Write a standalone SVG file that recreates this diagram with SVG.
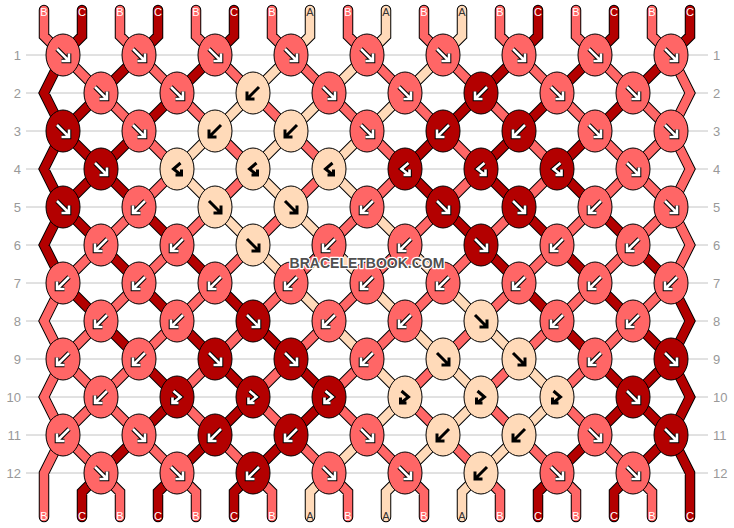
<svg xmlns="http://www.w3.org/2000/svg" xmlns:xlink="http://www.w3.org/1999/xlink" width="734" height="528" viewBox="0 0 734 528">
<style>
.grid line{stroke:#c4c4c4;stroke-width:1}
.rl{font-family:"Liberation Sans",Arial,sans-serif;font-size:13px;fill:#999}
.rl.l{text-anchor:end}
.so{fill:none;stroke:#000;stroke-width:10.5;stroke-linecap:round;stroke-linejoin:miter}
.sB{fill:none;stroke:#FF6666;stroke-width:8.5;stroke-linecap:round;stroke-linejoin:miter}
.sC{fill:none;stroke:#B30000;stroke-width:8.5;stroke-linecap:round;stroke-linejoin:miter}
.sA{fill:none;stroke:#FFDAB9;stroke-width:8.5;stroke-linecap:round;stroke-linejoin:miter}
.kB,.kC,.kA{stroke:#000;stroke-width:1}
.kB{fill:#FF6666}.kC{fill:#B30000}.kA{fill:#FFDAB9}
.ao{fill:none;stroke:#000;stroke-width:4.6}
.aw{fill:none;stroke:#fff;stroke-width:2.6}
.ak{fill:none;stroke:#000;stroke-width:3}
.lb{font-family:"Liberation Sans",Arial,sans-serif;font-size:11px;text-anchor:middle}
.lw{fill:#fff}.ld{fill:#333}
.wm{font-family:"Liberation Sans",Arial,sans-serif;font-weight:bold;font-size:14px;text-anchor:middle;fill:#505050;stroke:#fff;stroke-width:2.5;paint-order:stroke;stroke-linejoin:round}
</style>
<defs>
<path id="aF" d="M-6,-6L5,5M6,-1.5V6H-1.5"/>
<path id="aB" d="M6,-6L-5,5M-6,-1.5V6H1.5"/>
<path id="aFB" d="M-3.5,-6L3.5,0L-3.5,5.5M-4.5,0.5V6H1.5"/>
<path id="aBF" d="M3.5,-6L-3.5,0L3.5,5.5M4.5,0.5V6H-1.5"/>
<g id="Fw"><use href="#aF" class="ao"/><use href="#aF" class="aw"/></g>
<g id="Fk"><use href="#aF" class="ak"/></g>
<g id="Bw"><use href="#aB" class="ao"/><use href="#aB" class="aw"/></g>
<g id="Bk"><use href="#aB" class="ak"/></g>
<g id="FBw"><use href="#aFB" class="ao"/><use href="#aFB" class="aw"/></g>
<g id="FBk"><use href="#aFB" class="ak"/></g>
<g id="BFw"><use href="#aBF" class="ao"/><use href="#aBF" class="aw"/></g>
<g id="BFk"><use href="#aBF" class="ak"/></g>
<path id="sgB" d="M44,10V36L63,55M120,10V36L139,55M196,10V36L215,55M272,10V36L291,55M348,10V36L367,55M424,10V36L443,55M500,10V36L519,55M576,10V36L595,55M652,10V36L671,55
M671,55L690,93L671,131M671,131L690,169L671,207M671,207L690,245L671,283M63,283L44,321L63,359M63,359L44,397L63,435M63,435L44,473V517
M63,55L101,93M139,55L177,93M215,55L253,93M291,55L329,93M367,55L405,93M443,55L481,93M519,55L557,93M595,55L633,93
M101,93L139,131M177,93L215,131M253,93L291,131M329,93L367,131M405,93L443,131M481,93L519,131M557,93L595,131M633,93L671,131
M139,131L177,169M215,131L253,169M291,131L329,169M367,131L405,169M443,131L481,169M519,131L557,169M595,131L633,169M671,131L633,169
M177,169L139,207M253,169L215,207M329,169L291,207M405,169L367,207M481,169L443,207M557,169L519,207M633,169L595,207M633,169L671,207
M139,207L101,245M215,207L177,245M291,207L253,245M367,207L329,245M443,207L405,245M519,207L481,245M595,207L557,245M671,207L633,245
M101,245L63,283M177,245L139,283M253,245L215,283M329,245L291,283M405,245L367,283M481,245L443,283M557,245L519,283M633,245L595,283
M139,283L101,321M215,283L177,321M291,283L253,321M367,283L329,321M443,283L405,321M519,283L481,321M595,283L557,321M671,283L633,321
M101,321L63,359M177,321L139,359M253,321L215,359M329,321L291,359M405,321L367,359M481,321L443,359M557,321L519,359M633,321L595,359
M63,359L101,397M139,359L101,397M215,359L177,397M291,359L253,397M367,359L329,397M443,359L405,397M519,359L481,397M595,359L557,397
M101,397L63,435M101,397L139,435M177,397L215,435M253,397L291,435M329,397L367,435M405,397L443,435M481,397L519,435M557,397L595,435
M63,435L101,473M139,435L177,473M215,435L253,473M291,435L329,473M367,435L405,473M443,435L481,473M519,435L557,473M595,435L633,473
M101,473L120,492V517M177,473L196,492V517M253,473L272,492V517M329,473L348,492V517M405,473L424,492V517M481,473L500,492V517M557,473L576,492V517M633,473L652,492V517"/>
<path id="sgC" d="M82,10V36L63,55M158,10V36L139,55M234,10V36L215,55M538,10V36L519,55M614,10V36L595,55M690,10V36L671,55
M63,55L44,93L63,131M63,131L44,169L63,207M63,207L44,245L63,283M671,283L690,321L671,359M671,359L690,397L671,435M671,435L690,473V517
M139,55L101,93M215,55L177,93M519,55L481,93M595,55L557,93M671,55L633,93
M101,93L63,131M177,93L139,131M481,93L443,131M557,93L519,131M633,93L595,131
M63,131L101,169M139,131L101,169M443,131L405,169M519,131L481,169M595,131L557,169
M101,169L63,207M101,169L139,207M405,169L443,207M481,169L519,207M557,169L595,207
M63,207L101,245M139,207L177,245M443,207L481,245M519,207L557,245M595,207L633,245
M101,245L139,283M177,245L215,283M481,245L519,283M557,245L595,283M633,245L671,283
M63,283L101,321M139,283L177,321M215,283L253,321M519,283L557,321M595,283L633,321
M101,321L139,359M177,321L215,359M253,321L291,359M557,321L595,359M633,321L671,359
M139,359L177,397M215,359L253,397M291,359L329,397M595,359L633,397M671,359L633,397
M177,397L139,435M253,397L215,435M329,397L291,435M633,397L595,435M633,397L671,435
M139,435L101,473M215,435L177,473M291,435L253,473M595,435L557,473M671,435L633,473
M101,473L82,492V517M177,473L158,492V517M253,473L234,492V517M557,473L538,492V517M633,473L614,492V517"/>
<path id="sgA" d="M310,10V36L291,55M386,10V36L367,55M462,10V36L443,55
M291,55L253,93M367,55L329,93M443,55L405,93
M253,93L215,131M329,93L291,131M405,93L367,131
M215,131L177,169M291,131L253,169M367,131L329,169
M177,169L215,207M253,169L291,207M329,169L367,207
M215,207L253,245M291,207L329,245M367,207L405,245
M253,245L291,283M329,245L367,283M405,245L443,283
M291,283L329,321M367,283L405,321M443,283L481,321
M329,321L367,359M405,321L443,359M481,321L519,359
M367,359L405,397M443,359L481,397M519,359L557,397
M405,397L367,435M481,397L443,435M557,397L519,435
M367,435L329,473M443,435L405,473M519,435L481,473
M329,473L310,492V517M405,473L386,492V517M481,473L462,492V517"/>
</defs>
<rect width="734" height="528" fill="#fff"/>
<g class="grid">
<line x1="26" y1="55" x2="708" y2="55"/><line x1="26" y1="93" x2="708" y2="93"/><line x1="26" y1="131" x2="708" y2="131"/><line x1="26" y1="169" x2="708" y2="169"/><line x1="26" y1="207" x2="708" y2="207"/><line x1="26" y1="245" x2="708" y2="245"/><line x1="26" y1="283" x2="708" y2="283"/><line x1="26" y1="321" x2="708" y2="321"/><line x1="26" y1="359" x2="708" y2="359"/><line x1="26" y1="397" x2="708" y2="397"/><line x1="26" y1="435" x2="708" y2="435"/><line x1="26" y1="473" x2="708" y2="473"/>
</g>
<g id="row-labels">
<text class="rl l" x="21" y="59.5">1</text><text class="rl l" x="21" y="97.5">2</text><text class="rl l" x="21" y="135.5">3</text><text class="rl l" x="21" y="173.5">4</text><text class="rl l" x="21" y="211.5">5</text><text class="rl l" x="21" y="249.5">6</text><text class="rl l" x="21" y="287.5">7</text><text class="rl l" x="21" y="325.5">8</text><text class="rl l" x="21" y="363.5">9</text><text class="rl l" x="21" y="401.5">10</text><text class="rl l" x="21" y="439.5">11</text><text class="rl l" x="21" y="477.5">12</text>
<text class="rl" x="713" y="59.5">1</text><text class="rl" x="713" y="97.5">2</text><text class="rl" x="713" y="135.5">3</text><text class="rl" x="713" y="173.5">4</text><text class="rl" x="713" y="211.5">5</text><text class="rl" x="713" y="249.5">6</text><text class="rl" x="713" y="287.5">7</text><text class="rl" x="713" y="325.5">8</text><text class="rl" x="713" y="363.5">9</text><text class="rl" x="713" y="401.5">10</text><text class="rl" x="713" y="439.5">11</text><text class="rl" x="713" y="477.5">12</text>
</g>
<g id="connectors">
<use href="#sgB" class="so"/><use href="#sgC" class="so"/><use href="#sgA" class="so"/>
<use href="#sgB" class="sB"/><use href="#sgC" class="sC"/><use href="#sgA" class="sA"/>
</g>
<g id="knots">
<g id="k1-1"><ellipse class="kB" cx="63" cy="55" rx="17" ry="21"/><use href="#Fw" x="63" y="55"/></g>
<g id="k1-2"><ellipse class="kB" cx="139" cy="55" rx="17" ry="21"/><use href="#Fw" x="139" y="55"/></g>
<g id="k1-3"><ellipse class="kB" cx="215" cy="55" rx="17" ry="21"/><use href="#Fw" x="215" y="55"/></g>
<g id="k1-4"><ellipse class="kB" cx="291" cy="55" rx="17" ry="21"/><use href="#Fw" x="291" y="55"/></g>
<g id="k1-5"><ellipse class="kB" cx="367" cy="55" rx="17" ry="21"/><use href="#Fw" x="367" y="55"/></g>
<g id="k1-6"><ellipse class="kB" cx="443" cy="55" rx="17" ry="21"/><use href="#Fw" x="443" y="55"/></g>
<g id="k1-7"><ellipse class="kB" cx="519" cy="55" rx="17" ry="21"/><use href="#Fw" x="519" y="55"/></g>
<g id="k1-8"><ellipse class="kB" cx="595" cy="55" rx="17" ry="21"/><use href="#Fw" x="595" y="55"/></g>
<g id="k1-9"><ellipse class="kB" cx="671" cy="55" rx="17" ry="21"/><use href="#Fw" x="671" y="55"/></g>

<g id="k2-1"><ellipse class="kB" cx="101" cy="93" rx="17" ry="21"/><use href="#Fw" x="101" y="93"/></g>
<g id="k2-2"><ellipse class="kB" cx="177" cy="93" rx="17" ry="21"/><use href="#Fw" x="177" y="93"/></g>
<g id="k2-3"><ellipse class="kA" cx="253" cy="93" rx="17" ry="21"/><use href="#Bk" x="253" y="93"/></g>
<g id="k2-4"><ellipse class="kB" cx="329" cy="93" rx="17" ry="21"/><use href="#Fw" x="329" y="93"/></g>
<g id="k2-5"><ellipse class="kB" cx="405" cy="93" rx="17" ry="21"/><use href="#Fw" x="405" y="93"/></g>
<g id="k2-6"><ellipse class="kC" cx="481" cy="93" rx="17" ry="21"/><use href="#Bw" x="481" y="93"/></g>
<g id="k2-7"><ellipse class="kB" cx="557" cy="93" rx="17" ry="21"/><use href="#Fw" x="557" y="93"/></g>
<g id="k2-8"><ellipse class="kB" cx="633" cy="93" rx="17" ry="21"/><use href="#Fw" x="633" y="93"/></g>

<g id="k3-1"><ellipse class="kC" cx="63" cy="131" rx="17" ry="21"/><use href="#Fw" x="63" y="131"/></g>
<g id="k3-2"><ellipse class="kB" cx="139" cy="131" rx="17" ry="21"/><use href="#Fw" x="139" y="131"/></g>
<g id="k3-3"><ellipse class="kA" cx="215" cy="131" rx="17" ry="21"/><use href="#Bk" x="215" y="131"/></g>
<g id="k3-4"><ellipse class="kA" cx="291" cy="131" rx="17" ry="21"/><use href="#Bk" x="291" y="131"/></g>
<g id="k3-5"><ellipse class="kB" cx="367" cy="131" rx="17" ry="21"/><use href="#Fw" x="367" y="131"/></g>
<g id="k3-6"><ellipse class="kC" cx="443" cy="131" rx="17" ry="21"/><use href="#Bw" x="443" y="131"/></g>
<g id="k3-7"><ellipse class="kC" cx="519" cy="131" rx="17" ry="21"/><use href="#Bw" x="519" y="131"/></g>
<g id="k3-8"><ellipse class="kB" cx="595" cy="131" rx="17" ry="21"/><use href="#Fw" x="595" y="131"/></g>
<g id="k3-9"><ellipse class="kB" cx="671" cy="131" rx="17" ry="21"/><use href="#Fw" x="671" y="131"/></g>

<g id="k4-1"><ellipse class="kC" cx="101" cy="169" rx="17" ry="21"/><use href="#Fw" x="101" y="169"/></g>
<g id="k4-2"><ellipse class="kA" cx="177" cy="169" rx="17" ry="21"/><use href="#BFk" x="177" y="169"/></g>
<g id="k4-3"><ellipse class="kA" cx="253" cy="169" rx="17" ry="21"/><use href="#BFk" x="253" y="169"/></g>
<g id="k4-4"><ellipse class="kA" cx="329" cy="169" rx="17" ry="21"/><use href="#BFk" x="329" y="169"/></g>
<g id="k4-5"><ellipse class="kC" cx="405" cy="169" rx="17" ry="21"/><use href="#BFw" x="405" y="169"/></g>
<g id="k4-6"><ellipse class="kC" cx="481" cy="169" rx="17" ry="21"/><use href="#BFw" x="481" y="169"/></g>
<g id="k4-7"><ellipse class="kC" cx="557" cy="169" rx="17" ry="21"/><use href="#BFw" x="557" y="169"/></g>
<g id="k4-8"><ellipse class="kB" cx="633" cy="169" rx="17" ry="21"/><use href="#Fw" x="633" y="169"/></g>

<g id="k5-1"><ellipse class="kC" cx="63" cy="207" rx="17" ry="21"/><use href="#Fw" x="63" y="207"/></g>
<g id="k5-2"><ellipse class="kB" cx="139" cy="207" rx="17" ry="21"/><use href="#Bw" x="139" y="207"/></g>
<g id="k5-3"><ellipse class="kA" cx="215" cy="207" rx="17" ry="21"/><use href="#Fk" x="215" y="207"/></g>
<g id="k5-4"><ellipse class="kA" cx="291" cy="207" rx="17" ry="21"/><use href="#Fk" x="291" y="207"/></g>
<g id="k5-5"><ellipse class="kB" cx="367" cy="207" rx="17" ry="21"/><use href="#Bw" x="367" y="207"/></g>
<g id="k5-6"><ellipse class="kC" cx="443" cy="207" rx="17" ry="21"/><use href="#Fw" x="443" y="207"/></g>
<g id="k5-7"><ellipse class="kC" cx="519" cy="207" rx="17" ry="21"/><use href="#Fw" x="519" y="207"/></g>
<g id="k5-8"><ellipse class="kB" cx="595" cy="207" rx="17" ry="21"/><use href="#Bw" x="595" y="207"/></g>
<g id="k5-9"><ellipse class="kB" cx="671" cy="207" rx="17" ry="21"/><use href="#Fw" x="671" y="207"/></g>

<g id="k6-1"><ellipse class="kB" cx="101" cy="245" rx="17" ry="21"/><use href="#Bw" x="101" y="245"/></g>
<g id="k6-2"><ellipse class="kB" cx="177" cy="245" rx="17" ry="21"/><use href="#Bw" x="177" y="245"/></g>
<g id="k6-3"><ellipse class="kA" cx="253" cy="245" rx="17" ry="21"/><use href="#Fk" x="253" y="245"/></g>
<g id="k6-4"><ellipse class="kB" cx="329" cy="245" rx="17" ry="21"/><use href="#Bw" x="329" y="245"/></g>
<g id="k6-5"><ellipse class="kB" cx="405" cy="245" rx="17" ry="21"/><use href="#Bw" x="405" y="245"/></g>
<g id="k6-6"><ellipse class="kC" cx="481" cy="245" rx="17" ry="21"/><use href="#Fw" x="481" y="245"/></g>
<g id="k6-7"><ellipse class="kB" cx="557" cy="245" rx="17" ry="21"/><use href="#Bw" x="557" y="245"/></g>
<g id="k6-8"><ellipse class="kB" cx="633" cy="245" rx="17" ry="21"/><use href="#Bw" x="633" y="245"/></g>

<g id="k7-1"><ellipse class="kB" cx="63" cy="283" rx="17" ry="21"/><use href="#Bw" x="63" y="283"/></g>
<g id="k7-2"><ellipse class="kB" cx="139" cy="283" rx="17" ry="21"/><use href="#Bw" x="139" y="283"/></g>
<g id="k7-3"><ellipse class="kB" cx="215" cy="283" rx="17" ry="21"/><use href="#Bw" x="215" y="283"/></g>
<g id="k7-4"><ellipse class="kB" cx="291" cy="283" rx="17" ry="21"/><use href="#Bw" x="291" y="283"/></g>
<g id="k7-5"><ellipse class="kB" cx="367" cy="283" rx="17" ry="21"/><use href="#Bw" x="367" y="283"/></g>
<g id="k7-6"><ellipse class="kB" cx="443" cy="283" rx="17" ry="21"/><use href="#Bw" x="443" y="283"/></g>
<g id="k7-7"><ellipse class="kB" cx="519" cy="283" rx="17" ry="21"/><use href="#Bw" x="519" y="283"/></g>
<g id="k7-8"><ellipse class="kB" cx="595" cy="283" rx="17" ry="21"/><use href="#Bw" x="595" y="283"/></g>
<g id="k7-9"><ellipse class="kB" cx="671" cy="283" rx="17" ry="21"/><use href="#Bw" x="671" y="283"/></g>

<g id="k8-1"><ellipse class="kB" cx="101" cy="321" rx="17" ry="21"/><use href="#Bw" x="101" y="321"/></g>
<g id="k8-2"><ellipse class="kB" cx="177" cy="321" rx="17" ry="21"/><use href="#Bw" x="177" y="321"/></g>
<g id="k8-3"><ellipse class="kC" cx="253" cy="321" rx="17" ry="21"/><use href="#Fw" x="253" y="321"/></g>
<g id="k8-4"><ellipse class="kB" cx="329" cy="321" rx="17" ry="21"/><use href="#Bw" x="329" y="321"/></g>
<g id="k8-5"><ellipse class="kB" cx="405" cy="321" rx="17" ry="21"/><use href="#Bw" x="405" y="321"/></g>
<g id="k8-6"><ellipse class="kA" cx="481" cy="321" rx="17" ry="21"/><use href="#Fk" x="481" y="321"/></g>
<g id="k8-7"><ellipse class="kB" cx="557" cy="321" rx="17" ry="21"/><use href="#Bw" x="557" y="321"/></g>
<g id="k8-8"><ellipse class="kB" cx="633" cy="321" rx="17" ry="21"/><use href="#Bw" x="633" y="321"/></g>

<g id="k9-1"><ellipse class="kB" cx="63" cy="359" rx="17" ry="21"/><use href="#Bw" x="63" y="359"/></g>
<g id="k9-2"><ellipse class="kB" cx="139" cy="359" rx="17" ry="21"/><use href="#Bw" x="139" y="359"/></g>
<g id="k9-3"><ellipse class="kC" cx="215" cy="359" rx="17" ry="21"/><use href="#Fw" x="215" y="359"/></g>
<g id="k9-4"><ellipse class="kC" cx="291" cy="359" rx="17" ry="21"/><use href="#Fw" x="291" y="359"/></g>
<g id="k9-5"><ellipse class="kB" cx="367" cy="359" rx="17" ry="21"/><use href="#Bw" x="367" y="359"/></g>
<g id="k9-6"><ellipse class="kA" cx="443" cy="359" rx="17" ry="21"/><use href="#Fk" x="443" y="359"/></g>
<g id="k9-7"><ellipse class="kA" cx="519" cy="359" rx="17" ry="21"/><use href="#Fk" x="519" y="359"/></g>
<g id="k9-8"><ellipse class="kB" cx="595" cy="359" rx="17" ry="21"/><use href="#Bw" x="595" y="359"/></g>
<g id="k9-9"><ellipse class="kC" cx="671" cy="359" rx="17" ry="21"/><use href="#Fw" x="671" y="359"/></g>

<g id="k10-1"><ellipse class="kB" cx="101" cy="397" rx="17" ry="21"/><use href="#Bw" x="101" y="397"/></g>
<g id="k10-2"><ellipse class="kC" cx="177" cy="397" rx="17" ry="21"/><use href="#FBw" x="177" y="397"/></g>
<g id="k10-3"><ellipse class="kC" cx="253" cy="397" rx="17" ry="21"/><use href="#FBw" x="253" y="397"/></g>
<g id="k10-4"><ellipse class="kC" cx="329" cy="397" rx="17" ry="21"/><use href="#FBw" x="329" y="397"/></g>
<g id="k10-5"><ellipse class="kA" cx="405" cy="397" rx="17" ry="21"/><use href="#FBk" x="405" y="397"/></g>
<g id="k10-6"><ellipse class="kA" cx="481" cy="397" rx="17" ry="21"/><use href="#FBk" x="481" y="397"/></g>
<g id="k10-7"><ellipse class="kA" cx="557" cy="397" rx="17" ry="21"/><use href="#FBk" x="557" y="397"/></g>
<g id="k10-8"><ellipse class="kC" cx="633" cy="397" rx="17" ry="21"/><use href="#Fw" x="633" y="397"/></g>

<g id="k11-1"><ellipse class="kB" cx="63" cy="435" rx="17" ry="21"/><use href="#Bw" x="63" y="435"/></g>
<g id="k11-2"><ellipse class="kB" cx="139" cy="435" rx="17" ry="21"/><use href="#Fw" x="139" y="435"/></g>
<g id="k11-3"><ellipse class="kC" cx="215" cy="435" rx="17" ry="21"/><use href="#Bw" x="215" y="435"/></g>
<g id="k11-4"><ellipse class="kC" cx="291" cy="435" rx="17" ry="21"/><use href="#Bw" x="291" y="435"/></g>
<g id="k11-5"><ellipse class="kB" cx="367" cy="435" rx="17" ry="21"/><use href="#Fw" x="367" y="435"/></g>
<g id="k11-6"><ellipse class="kA" cx="443" cy="435" rx="17" ry="21"/><use href="#Bk" x="443" y="435"/></g>
<g id="k11-7"><ellipse class="kA" cx="519" cy="435" rx="17" ry="21"/><use href="#Bk" x="519" y="435"/></g>
<g id="k11-8"><ellipse class="kB" cx="595" cy="435" rx="17" ry="21"/><use href="#Fw" x="595" y="435"/></g>
<g id="k11-9"><ellipse class="kC" cx="671" cy="435" rx="17" ry="21"/><use href="#Fw" x="671" y="435"/></g>

<g id="k12-1"><ellipse class="kB" cx="101" cy="473" rx="17" ry="21"/><use href="#Fw" x="101" y="473"/></g>
<g id="k12-2"><ellipse class="kB" cx="177" cy="473" rx="17" ry="21"/><use href="#Fw" x="177" y="473"/></g>
<g id="k12-3"><ellipse class="kC" cx="253" cy="473" rx="17" ry="21"/><use href="#Bw" x="253" y="473"/></g>
<g id="k12-4"><ellipse class="kB" cx="329" cy="473" rx="17" ry="21"/><use href="#Fw" x="329" y="473"/></g>
<g id="k12-5"><ellipse class="kB" cx="405" cy="473" rx="17" ry="21"/><use href="#Fw" x="405" y="473"/></g>
<g id="k12-6"><ellipse class="kA" cx="481" cy="473" rx="17" ry="21"/><use href="#Bk" x="481" y="473"/></g>
<g id="k12-7"><ellipse class="kB" cx="557" cy="473" rx="17" ry="21"/><use href="#Fw" x="557" y="473"/></g>
<g id="k12-8"><ellipse class="kB" cx="633" cy="473" rx="17" ry="21"/><use href="#Fw" x="633" y="473"/></g>
</g>
<g id="string-labels" class="lb">
<text class="lw" x="44" y="16">B</text><text class="lw" x="82" y="16">C</text><text class="lw" x="120" y="16">B</text><text class="lw" x="158" y="16">C</text><text class="lw" x="196" y="16">B</text><text class="lw" x="234" y="16">C</text><text class="lw" x="272" y="16">B</text><text class="ld" x="310" y="16">A</text><text class="lw" x="348" y="16">B</text><text class="ld" x="386" y="16">A</text><text class="lw" x="424" y="16">B</text><text class="ld" x="462" y="16">A</text><text class="lw" x="500" y="16">B</text><text class="lw" x="538" y="16">C</text><text class="lw" x="576" y="16">B</text><text class="lw" x="614" y="16">C</text><text class="lw" x="652" y="16">B</text><text class="lw" x="690" y="16">C</text>
<text class="lw" x="44" y="520">B</text><text class="lw" x="82" y="520">C</text><text class="lw" x="120" y="520">B</text><text class="lw" x="158" y="520">C</text><text class="lw" x="196" y="520">B</text><text class="lw" x="234" y="520">C</text><text class="lw" x="272" y="520">B</text><text class="ld" x="310" y="520">A</text><text class="lw" x="348" y="520">B</text><text class="ld" x="386" y="520">A</text><text class="lw" x="424" y="520">B</text><text class="ld" x="462" y="520">A</text><text class="lw" x="500" y="520">B</text><text class="lw" x="538" y="520">C</text><text class="lw" x="576" y="520">B</text><text class="lw" x="614" y="520">C</text><text class="lw" x="652" y="520">B</text><text class="lw" x="690" y="520">C</text>
</g>
<text class="wm" x="367" y="268">BRACELETBOOK.COM</text>
</svg>
